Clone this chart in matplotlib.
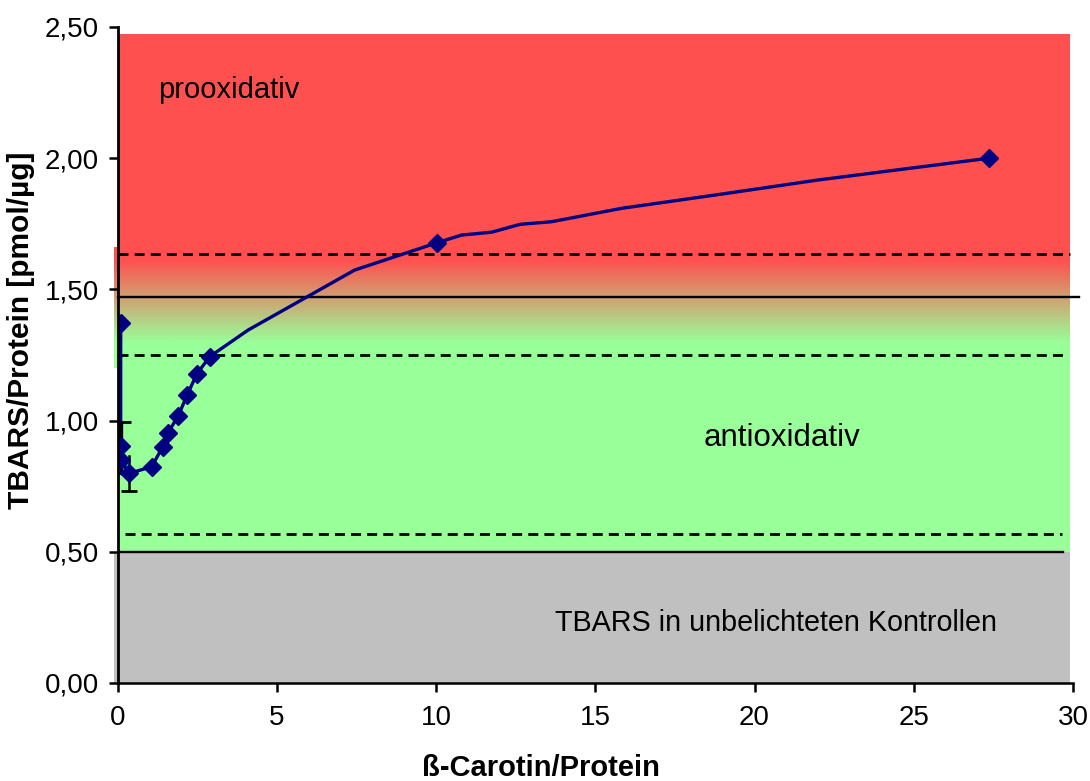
import numpy as np
import matplotlib
matplotlib.use("Agg")
import matplotlib.pyplot as plt
from matplotlib.ticker import FuncFormatter

plt.rcParams['font.family'] = ['Liberation Sans', 'DejaVu Sans']

# === Daten ===
carotin = [0.1, 0.1, 0.1, 0.37, 1.07, 1.42, 1.58, 1.91, 2.19, 2.49, 2.90,
           4.1, 7.45, 10.04, 10.8, 11.75, 12.64, 13.63, 15.83, 18.9, 22.0, 27.36]
tbars = [1.373, 0.904, 0.850, 0.799, 0.824, 0.900, 0.952, 1.019, 1.098, 1.178, 1.244,
         1.345, 1.574, 1.678, 1.707, 1.718, 1.748, 1.758, 1.809, 1.862, 1.917, 2.0]
marker_idx = [0, 1, 2, 3, 4, 5, 6, 7, 8, 9, 10, 13, 21]

# Fehlerbalken (x, y, unten, oben)
err_x = [0.1, 0.37]
err_y = [0.897, 0.798]
err_lo = [0.097, 0.067]
err_hi = [0.096, 0.067]

# Grenzlinien
solid_levels = [1.472, 0.50]
dashed_levels = [1.634, 1.249, 0.567]

# Farbbereiche
red = np.array([255, 80, 80]) / 255
green = np.array([153, 255, 153]) / 255
gray = "#c0c0c0"
red_top, red_bottom, green_top = 2.473, 1.612, 1.296

fig = plt.figure(figsize=(10.9, 7.81), dpi=100)
ax = fig.add_axes([117.5 / 1090, 1 - 683 / 781, 955.5 / 1090, 656 / 781])
ax.set_xlim(0, 30)
ax.set_ylim(0, 2.5)

# Hintergrund
ax.fill_between([0, 29.9], red_bottom, red_top, color=red, lw=0, zorder=0)
ax.fill_between([0, 29.9], 0.5, green_top, color=green, lw=0, zorder=0)
ax.fill_between([-0.1, 29.9], 0, 0.5, color=gray, lw=0, zorder=0, clip_on=False)

yy = np.linspace(1.20, 1.66, 200)
t = np.clip((yy - green_top) / (red_bottom - green_top), 0, 1)
grad = green[None, :] * (1 - t[:, None]) + red[None, :] * t[:, None]
ax.imshow(grad[:, None, :], extent=[-0.1, 29.9, 1.20, 1.66], origin="lower",
          aspect="auto", interpolation="bilinear", zorder=0.5, clip_on=False)

# Linien
dash = (0, (3.6, 2.2))
ax.plot([0, 30.2], [solid_levels[0]] * 2, color="black", lw=1.7, zorder=2, clip_on=False)
ax.plot([0, 29.7], [solid_levels[1]] * 2, color="black", lw=1.7, zorder=2)
ax.plot([0, 29.9], [dashed_levels[0]] * 2, color="black", lw=2, ls=dash, zorder=2)
ax.plot([0, 29.8], [dashed_levels[1]] * 2, color="black", lw=2, ls=dash, zorder=2)
ax.plot([0.24, 29.65], [dashed_levels[2]] * 2, color="black", lw=2, ls=dash, zorder=2)

# Messkurve
ax.plot(carotin, tbars, color="#000080", lw=2.4, zorder=3)
ax.errorbar(err_x[0], err_y[0], yerr=[[err_lo[0]], [err_hi[0]]], fmt="none",
            ecolor="black", elinewidth=2.4, capsize=7, capthick=2, zorder=4)
ax.errorbar(err_x[1], err_y[1], yerr=[[err_lo[1]], [0]], fmt="none",
            ecolor="black", elinewidth=1.8, capsize=6, capthick=2, zorder=4)
ax.plot([err_x[1]] * 2, [err_y[1], err_y[1] + err_hi[1]], color="black", lw=1.8, zorder=4)
ax.plot([carotin[i] for i in marker_idx], [tbars[i] for i in marker_idx],
        ls="none", marker="D", ms=9, color="#000080", zorder=5)

# Beschriftung im Diagramm
ax.text(1.27, 2.26, "prooxidativ", fontsize=21, va="center", ha="left")
ax.text(20.86, 0.934, "antioxidativ", fontsize=22.5, va="center", ha="center")
ax.text(20.68, 0.229, "TBARS in unbelichteten Kontrollen", fontsize=20.7, va="center", ha="center")

# Achsen
for side in ["top", "right"]:
    ax.spines[side].set_visible(False)
ax.spines["left"].set_linewidth(2)
ax.spines["bottom"].set_linewidth(1.8)
ax.spines["left"].set_zorder(6)
ax.set_xticks([0, 5, 10, 15, 20, 25, 30])
ax.set_yticks(np.arange(0, 2.51, 0.5))
ax.yaxis.set_major_formatter(FuncFormatter(lambda v, p: f"{v:.2f}".replace(".", ",")))
ax.tick_params(axis="both", direction="out", length=6.5, width=1.8, labelsize=20)
ax.tick_params(axis="y", pad=7)
ax.tick_params(axis="x", pad=9)

ax.set_ylabel("TBARS/Protein [pmol/µg]", fontsize=21.5, fontweight="bold")
ax.yaxis.set_label_coords(-0.086, 0.538)
ax.set_xlabel("ß-Carotin/Protein", fontsize=21, fontweight="bold", va="top")
ax.xaxis.set_label_coords(0.443, -0.108)

fig.savefig("out.png", dpi=100)
